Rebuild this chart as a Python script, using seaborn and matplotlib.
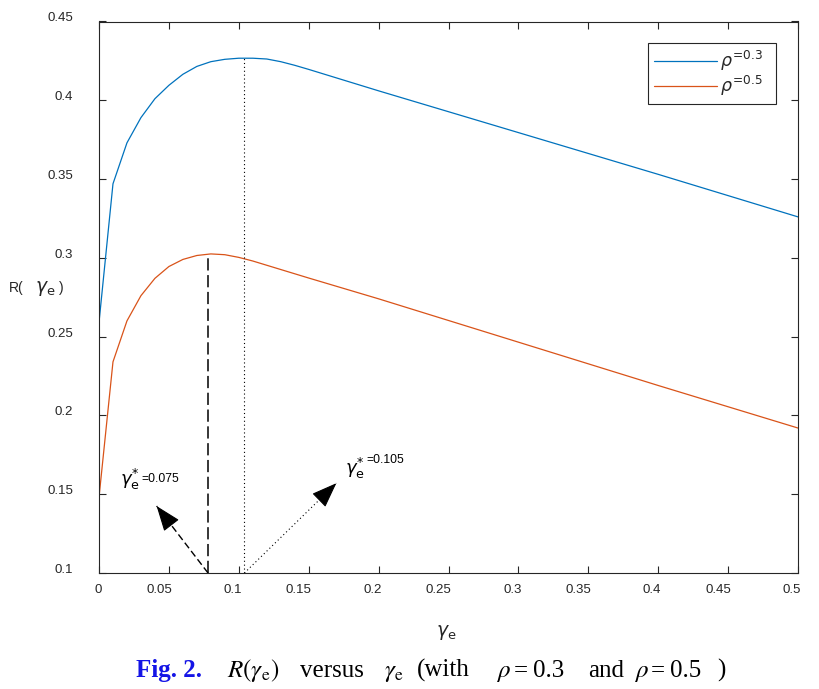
import numpy as np
import pandas as pd
import seaborn as sns
import matplotlib.pyplot as plt
from matplotlib.transforms import ScaledTranslation

# data
gamma_e = [0.0, 0.01, 0.02, 0.03, 0.04, 0.05, 0.06, 0.07, 0.08, 0.09, 0.10,
           0.11, 0.12, 0.13, 0.14, 0.15, 0.2, 0.3, 0.4, 0.5]
r_rho03 = [0.259, 0.347, 0.373, 0.389, 0.401, 0.4095, 0.4165, 0.4215, 0.4245, 0.426, 0.4267,
           0.4267, 0.4262, 0.4245, 0.4222, 0.4196, 0.406, 0.3795, 0.353, 0.326]
r_rho05 = [0.148, 0.234, 0.260, 0.276, 0.287, 0.2945, 0.299, 0.3015, 0.3025, 0.302, 0.3003,
           0.298, 0.2953, 0.2926, 0.2899, 0.2872, 0.274, 0.2465, 0.219, 0.192]
series_names = ["rho=0.3", "rho=0.5"]
legend_labels = [r"$\rho^{\!=\!0.3}$  ", r"$\rho^{\!=\!0.5}$  "]

opt_rho05 = (0.078, 0.3025)   # dashed marker line
opt_rho03 = (0.104, 0.4267)   # dotted marker line
arrow_tip_05 = (0.0412, 0.1425)
arrow_tip_03 = (0.1698, 0.157)

x_ticks = [0, 0.05, 0.1, 0.15, 0.2, 0.25, 0.3, 0.35, 0.4, 0.45, 0.5]
x_ticklabels = ["0", "0.05", "0.1", "0.15", "0.2", "0.25", "0.3", "0.35", "0.4", "0.45", "0.5"]
y_ticks = [0.1, 0.15, 0.2, 0.25, 0.3, 0.35, 0.4, 0.45]
y_ticklabels = ["0.1", "0.15", "0.2", "0.25", "0.3", "0.35", "0.4", "0.45"]

# caption pieces and their left edges (px) as laid out in the reference
caption_parts = [r"$R(\gamma_{\rm e})$", "versus", r"$\gamma_{\rm e}$", "(with",
                 r"$\rho$", "=", "0.3", "and", r"$\rho$", "=", "0.5", ")"]
caption_x = [227, 300, 384, 417, 496, 514, 533, 588, 634, 651, 670, 717]

df = pd.DataFrame({
    "gamma": gamma_e * 2,
    "R": r_rho03 + r_rho05,
    "series": [series_names[0]] * len(gamma_e) + [series_names[1]] * len(gamma_e),
})

sns.set_theme(style="white")
plt.rcParams["font.family"] = ["Liberation Sans", "DejaVu Sans"]
plt.rcParams["mathtext.fontset"] = "dejavusans"

GRAY = "#262626"
fig = plt.figure(figsize=(8.19, 6.89), dpi=100)
ax = fig.add_axes([99 / 819, 116 / 689, 699 / 819, 551.5 / 689])

sns.lineplot(data=df, x="gamma", y="R", hue="series", estimator=None, sort=True,
             palette={series_names[0]: "#0072BD", series_names[1]: "#D95319"},
             linewidth=0.9, ax=ax)

ax.set_xlim(0, 0.5)
ax.set_ylim(0.1, 0.45)
ax.set_xticks(x_ticks)
ax.set_xticklabels(x_ticklabels)
ax.set_yticks(y_ticks)
ax.set_yticklabels(y_ticklabels)
ax.set_xlabel("")
ax.set_ylabel("")

for s in ax.spines.values():
    s.set_color(GRAY)
    s.set_linewidth(0.8)
    s.set_visible(True)
ax.tick_params(direction="in", length=5, width=0.8, color=GRAY, labelcolor=GRAY,
               labelsize=9.5, top=True, right=True, bottom=True, left=True)
ax.tick_params(axis="y", pad=18.5)
ax.tick_params(axis="x", pad=8)

# matlab-ish tick label placement
for lab in ax.get_yticklabels():
    lab.set_va("baseline")
shift = ScaledTranslation(3 / 100, 0, fig.dpi_scale_trans)
for lab in ax.get_xticklabels():
    lab.set_ha("right")
    lab.set_transform(lab.get_transform() + shift)

# marker lines at the optima
ax.plot([opt_rho05[0], opt_rho05[0]], [0.1, opt_rho05[1]], color="black",
        linewidth=1.1, linestyle=(0, (8, 3)))
ax.plot([opt_rho03[0], opt_rho03[0]], [0.1, opt_rho03[1]], color="black",
        linewidth=0.8, linestyle=(0, (1, 2.5)))


def arrow(start, tip, ls, lw):
    # shaft in the given style, head drawn solid on top
    ax.plot([start[0], tip[0]], [start[1], tip[1]], color="black", linewidth=lw, linestyle=ls)
    near = (start[0] + 0.85 * (tip[0] - start[0]), start[1] + 0.85 * (tip[1] - start[1]))
    ax.annotate("", xy=tip, xytext=near,
                arrowprops=dict(arrowstyle="-|>,head_length=1.6,head_width=0.6",
                                color="black", linewidth=0.8, mutation_scale=10,
                                shrinkA=0, shrinkB=0))


arrow((opt_rho05[0], 0.1), arrow_tip_05, (0, (5, 2.5)), 1.0)
arrow((opt_rho03[0], 0.1), arrow_tip_03, (0, (1, 2.5)), 0.8)

ax.text(0.015, 0.156, r"$\gamma_{\rm e}^{*}$", fontsize=13, va="baseline", color="black")
ax.text(0.0305, 0.1577, "=0.075", fontsize=8.8, va="baseline", color="black")
ax.text(0.1757, 0.163, r"$\gamma_{\rm e}^{*}$", fontsize=13, va="baseline", color="black")
ax.text(0.191, 0.1697, "=0.105", fontsize=8.8, va="baseline", color="black")

# legend
handles, _ = ax.get_legend_handles_labels()
leg = ax.legend(handles, legend_labels, loc="upper right",
                bbox_to_anchor=(677 / 699, 530 / 551.5), fontsize=12.5,
                frameon=True, fancybox=False, framealpha=1, edgecolor=GRAY,
                handlelength=3.6, handletextpad=0.2, labelspacing=0.05,
                borderpad=0.35, borderaxespad=0)
leg.get_frame().set_linewidth(0.8)

# axis labels, placed like the matlab export
fig.text(9 / 819, 1 - 292 / 689, "R(", fontsize=10, color=GRAY, va="baseline")
fig.text(35 / 819, 1 - 292 / 689, r"$\gamma_{\rm e}$", fontsize=13.5, color=GRAY, va="baseline")
fig.text(59 / 819, 1 - 292 / 689, ")", fontsize=10, color=GRAY, va="baseline")
fig.text(446 / 819, 1 - 636 / 689, r"$\gamma_{\rm e}$", fontsize=13.5, color=GRAY,
         va="baseline", ha="center")

# caption
serif = ["Liberation Serif", "DejaVu Serif"]
fig.text(136 / 819, 1 - 677 / 689, "Fig. 2.", fontsize=18, fontweight="bold",
         color="#1414E6", family=serif, va="baseline")
plt.rcParams["mathtext.fontset"] = "stix"
for part, px in zip(caption_parts, caption_x):
    fig.text(px / 819, 1 - 677 / 689, part, fontsize=18, color="black",
             family=serif, va="baseline")

fig.savefig("out.png", dpi=100, facecolor="white")
